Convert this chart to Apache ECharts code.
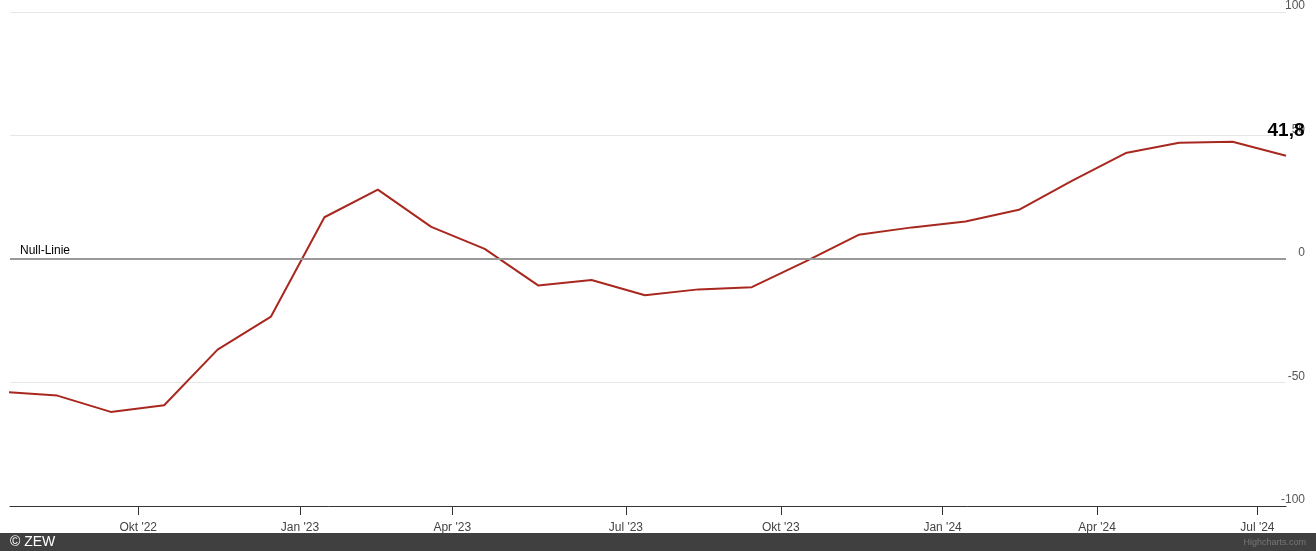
<!DOCTYPE html>
<html>
<head>
<meta charset="utf-8">
<script src="https://cdn.jsdelivr.net/npm/echarts@6/dist/echarts.min.js"></script>
<style>
html,body{margin:0;padding:0;background:#fff;}
#chart{width:1316px;height:551px;}
</style>
</head>
<body>
<div id="chart"></div>
<script>
// ZEW Konjunkturerwartungen (release dates, ordinal x-axis)
const releaseDates = ['2022-07-12','2022-08-16','2022-09-13','2022-10-18','2022-11-15','2022-12-13',
  '2023-01-17','2023-02-21','2023-03-21','2023-04-18','2023-05-16','2023-06-13','2023-07-11',
  '2023-08-15','2023-09-12','2023-10-17','2023-11-14','2023-12-12','2024-01-16','2024-02-20',
  '2024-03-19','2024-04-16','2024-05-14','2024-06-18','2024-07-16'];
const values = [-53.8,-55.3,-61.9,-59.2,-36.7,-23.3,16.9,28.1,13.0,4.1,-10.7,-8.5,-14.7,
  -12.3,-11.4,-1.1,9.8,12.8,15.2,19.9,31.7,42.9,47.1,47.5,41.8];
const tickDates = ['2022-10-01','2023-01-01','2023-04-01','2023-07-01','2023-10-01','2024-01-01','2024-04-01','2024-07-01'];
const tickLabels = ["Okt '22","Jan '23","Apr '23","Jul '23","Okt '23","Jan '24","Apr '24","Jul '24"];
const rangeStart = '2022-07-16';

const ts = releaseDates.map(d => Date.parse(d));
function ordinal(dateStr){
  const t = Date.parse(dateStr);
  for (let i = 0; i < ts.length - 1; i++) {
    if (t >= ts[i] && t <= ts[i+1]) return i + (t - ts[i]) / (ts[i+1] - ts[i]);
  }
  return ts.length - 1;
}
const tickPos = tickDates.map(ordinal);
function labelFor(v){
  let best = 0, bd = Infinity;
  tickPos.forEach((p,i)=>{ const d = Math.abs(p - v); if (d < bd){bd = d; best = i;} });
  return tickLabels[best];
}
const FONT = 'Liberation Sans, Arial, sans-serif';
const seriesData = values.map((v,i) => [i, v]);
const lastIdx = values.length - 1;
const lastVal = values[lastIdx];

const chart = echarts.init(document.getElementById('chart'));
chart.setOption({
  animation:false,
  textStyle:{fontFamily:FONT},
  grid:{left:10, right:30, top:10, bottom:45, containLabel:false},
  xAxis:{
    type:'value', min: ordinal(rangeStart), max: lastIdx,
    axisLine:{show:true, onZero:false, lineStyle:{color:'#333', width:1}},
    splitLine:{show:false},
    axisTick:{show:true, length:9, customValues: tickPos, lineStyle:{color:'#333'}},
    axisLabel:{show:true, customValues: tickPos, formatter: v => labelFor(v),
      color:'#444', fontSize:12, margin:16}
  },
  yAxis:{
    type:'value', position:'right', min:-100, max:100, interval:50,
    axisLine:{show:false}, axisTick:{show:false},
    splitLine:{show:true, lineStyle:{color:'#e6e6e6', width:1}},
    axisLabel:{color:'#555', fontSize:12, margin:19, align:'right', verticalAlign:'bottom'}
  },
  series:[{
    type:'line', data: seriesData, symbol:'none', showSymbol:false,
    lineStyle:{color:'#a8271e', width:2}, itemStyle:{color:'#a8271e'},
    clip:true, z:3,
    markLine:{
      silent:true, symbol:['none','none'], animation:false,
      lineStyle:{color:'#999', width:2, type:'solid'},
      label:{show:true, position:'insideStartTop', formatter:'Null-Linie', color:'#000', fontSize:12, distance:[10,2]},
      data:[{yAxis:0}]
    },
    markPoint:{
      silent:true, animation:false, symbol:'circle', symbolSize:1,
      itemStyle:{color:'rgba(0,0,0,0)'},
      label:{show:true, position:'top', distance:15,
        formatter: () => String(lastVal).replace('.', ','),
        fontSize:19, fontWeight:'bold', color:'#000', fontFamily:FONT},
      data:[{coord:[lastIdx, lastVal]}]
    }
  }],
  graphic:{elements:[
    {type:'rect', z:100, shape:{x:0, y:533, width:1316, height:18}, style:{fill:'#404040'}},
    {type:'text', z:101, x:10, y:542, style:{text:'© ZEW', fill:'#fff', fontSize:14, verticalAlign:'middle', fontFamily:FONT}},
    {type:'text', z:101, x:1306, y:543, style:{text:'Highcharts.com', fill:'#777', fontSize:9, align:'right', verticalAlign:'middle', fontFamily:FONT}}
  ]}
});
</script>
</body>
</html>
